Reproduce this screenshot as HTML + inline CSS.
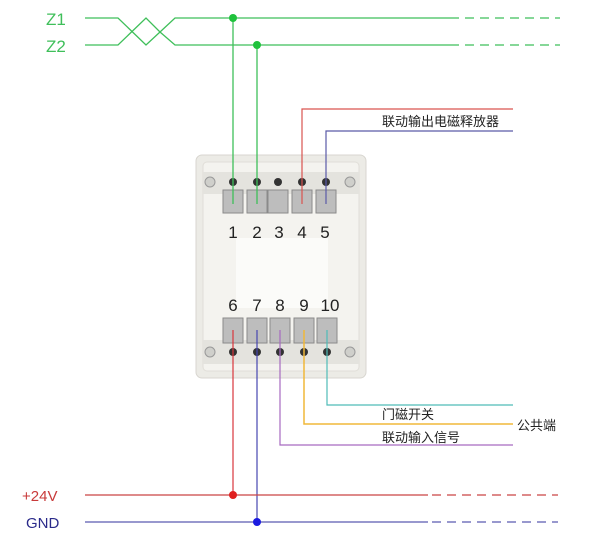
<!DOCTYPE html>
<html><head><meta charset="utf-8"><style>html,body{margin:0;padding:0;background:#fff}svg{display:block}</style></head><body>
<svg width="600" height="540" viewBox="0 0 600 540" xmlns="http://www.w3.org/2000/svg" font-family="Liberation Sans, sans-serif">
<!-- device body -->
<rect x="196" y="155" width="170" height="223" rx="6" fill="#ecebe6" stroke="#d8d6d0"/>
<rect x="203" y="162" width="156" height="209" rx="4" fill="#f4f3ef" stroke="#e0ded8"/>
<rect x="236" y="238" width="92" height="70" fill="#fbfbf9"/>
<rect x="203" y="172" width="156" height="22" fill="#e4e3de"/>
<rect x="203" y="340" width="156" height="24" fill="#e4e3de"/>
<circle cx="210" cy="182" r="5" fill="#cfcfcb" stroke="#999"/>
<circle cx="350" cy="182" r="5" fill="#cfcfcb" stroke="#999"/>
<circle cx="210" cy="352" r="5" fill="#cfcfcb" stroke="#999"/>
<circle cx="350" cy="352" r="5" fill="#cfcfcb" stroke="#999"/>
<g fill="#bdbdbd" stroke="#8a8a8a">
<rect x="223" y="190" width="20" height="23"/><rect x="247" y="190" width="20" height="23"/><rect x="268" y="190" width="20" height="23"/><rect x="292" y="190" width="20" height="23"/><rect x="316" y="190" width="20" height="23"/>
<rect x="223" y="318" width="20" height="25"/><rect x="247" y="318" width="20" height="25"/><rect x="270" y="318" width="20" height="25"/><rect x="294" y="318" width="20" height="25"/><rect x="317" y="318" width="20" height="25"/>
</g>
<g fill="#333">
<circle cx="233" cy="182" r="4"/><circle cx="257" cy="182" r="4"/><circle cx="278" cy="182" r="4"/><circle cx="302" cy="182" r="4"/><circle cx="326" cy="182" r="4"/>
<circle cx="233" cy="352" r="4"/><circle cx="257" cy="352" r="4"/><circle cx="280" cy="352" r="4"/><circle cx="304" cy="352" r="4"/><circle cx="327" cy="352" r="4"/>
</g>
<g font-size="17" fill="#222" text-anchor="middle">
<text x="233" y="238">1</text><text x="257" y="238">2</text><text x="279" y="238">3</text><text x="302" y="238">4</text><text x="325" y="238">5</text>
<text x="233" y="311">6</text><text x="257" y="311">7</text><text x="280" y="311">8</text><text x="304" y="311">9</text><text x="330" y="311">10</text>
</g>
<!-- Z lines -->
<g stroke="#3fbf5a" stroke-width="1.3" fill="none">
<path d="M85 18 H118 L146 45 L160 32 L175 18 H450"/>
<path d="M85 45 H118 L146 18 L160 32 L175 45 H450"/>
<path d="M450 18 H560 M450 45 H560" stroke-dasharray="9 6"/>
<path d="M233 18 V204 M257 45 V204"/>
</g>
<circle cx="233" cy="18" r="4" fill="#1fc23c"/><circle cx="257" cy="45" r="4" fill="#1fc23c"/>
<text x="46" y="25" font-size="17" fill="#3fbf5a">Z1</text><text x="46" y="52" font-size="17" fill="#3fbf5a">Z2</text>
<!-- top outputs -->
<path d="M302 204 V109 H513" stroke="#d9534f" stroke-width="1.2" fill="none"/>
<path d="M326 204 V131 H513" stroke="#5a5aa8" stroke-width="1.2" fill="none"/>
<text x="382" y="126" font-size="13" fill="#222" font-family="Liberation Sans, Noto Sans CJK SC, sans-serif">联动输出电磁释放器</text>
<!-- bottom -->
<path d="M233 330 V495" stroke="#d9363c" stroke-width="1.2" fill="none"/>
<path d="M257 330 V522" stroke="#4646b0" stroke-width="1.2" fill="none"/>
<path d="M280 330 V445 H513" stroke="#a66ac0" stroke-width="1.2" fill="none"/>
<path d="M304 330 V424 H513" stroke="#f0b83a" stroke-width="1.5" fill="none"/>
<path d="M327 330 V405 H513" stroke="#4fbcb8" stroke-width="1.2" fill="none"/>
<path d="M85 495 H428" stroke="#c94545" stroke-width="1.2"/>
<path d="M432 495 H558" stroke="#c94545" stroke-width="1.2" stroke-dasharray="9 6"/>
<path d="M85 522 H428" stroke="#5a5ab0" stroke-width="1.3"/>
<path d="M432 522 H558" stroke="#5a5ab0" stroke-width="1.3" stroke-dasharray="9 6"/>
<circle cx="233" cy="495" r="4" fill="#e02020"/><circle cx="257" cy="522" r="4" fill="#1a1ae0"/>
<text x="22" y="501" font-size="15" fill="#c83a3a">+24V</text>
<text x="26" y="528" font-size="15" fill="#2a2a8a">GND</text>
<g font-size="13" fill="#222" font-family="Liberation Sans, Noto Sans CJK SC, sans-serif">
<text x="382" y="419">门磁开关</text><text x="382" y="442">联动输入信号</text><text x="517" y="430">公共端</text>
</g>
</svg>
</body></html>
